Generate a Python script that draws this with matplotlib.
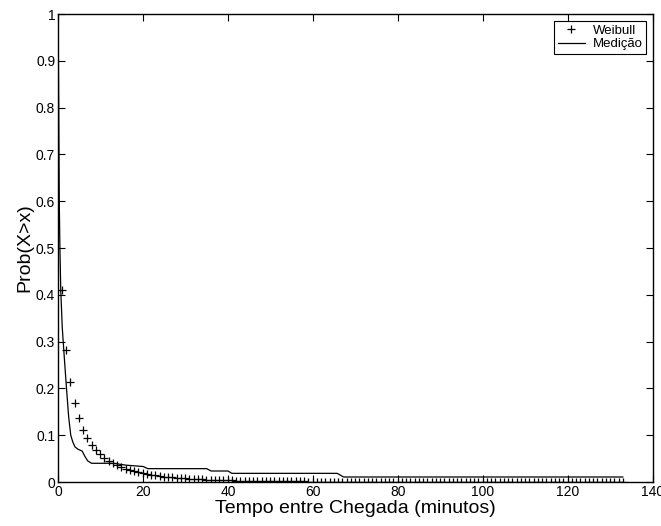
import numpy as np
import matplotlib
matplotlib.use('Agg')
import matplotlib.pyplot as plt

plt.rcParams['font.family'] = ['Liberation Sans', 'DejaVu Sans']

# Weibull fit, one point per minute (first point sits just under 1 min)
weibull_y = [0.410, 0.283, 0.213, 0.168, 0.136, 0.112, 0.094, 0.080, 0.069, 0.060,
             0.052, 0.0455, 0.040, 0.0355, 0.0316, 0.0282, 0.0253, 0.0227, 0.0205, 0.0185,
             0.0168, 0.0153, 0.0139, 0.0127, 0.0116, 0.0106, 0.0097, 0.0089, 0.0082, 0.0076,
             0.0070, 0.0064, 0.0060, 0.0055, 0.0051, 0.0047, 0.0044, 0.0041, 0.0038, 0.0036,
             0.0033, 0.0031, 0.0029, 0.0027, 0.0025, 0.0024, 0.0022, 0.0021, 0.0020, 0.0018,
             0.0017, 0.0016, 0.0015, 0.0014, 0.0013, 0.0012, 0.0012, 0.0011, 0.0010, 0.0010,
             0.0009, 0.0008, 0.0008, 0.0007, 0.0007, 0.0007, 0.0006, 0.0006, 0.0006, 0.0005,
             0.0005, 0.0005, 0.0004, 0.0004, 0.0004, 0.0004, 0.0004, 0.0003, 0.0003, 0.0003,
             0.0003, 0.0003, 0.0003, 0.0002, 0.0002, 0.0002, 0.0002, 0.0002, 0.0002, 0.0002,
             0.0002, 0.0002, 0.0001, 0.0001, 0.0001, 0.0001, 0.0001, 0.0001, 0.0001, 0.0001,
             0.0001, 0.0001, 0.0001, 0.0001, 0.0001, 0.0001, 0.0001, 0.0001, 0.0001, 0.0001,
             0.0001, 0.0001, 0.0, 0.0, 0.0, 0.0, 0.0, 0.0, 0.0, 0.0,
             0.0, 0.0, 0.0, 0.0, 0.0, 0.0, 0.0, 0.0, 0.0, 0.0,
             0.0, 0.0, 0.0]
weibull_x = np.arange(len(weibull_y)) + 0.9

# measured CCDF
med_x = [0.0, 0.1, 0.2, 0.3, 0.45, 0.65, 1.0, 1.35, 2.0, 2.5, 3.0, 3.5, 4.0, 4.7,
         5.7, 6.3, 7.0, 7.9, 13.0, 16.0, 20.1, 21.1, 35.0, 36.0, 40.0, 40.9, 65.7,
         67.2, 132.9]
med_y = [1.0, 0.9, 0.75, 0.6, 0.5, 0.41, 0.33, 0.283, 0.2, 0.14, 0.1, 0.085, 0.075, 0.07,
         0.066, 0.055, 0.045, 0.040, 0.040, 0.036, 0.033, 0.0285, 0.0285, 0.0235, 0.0235,
         0.0185, 0.0185, 0.0107, 0.0107]

fig = plt.figure(figsize=(6.61, 5.26), dpi=100)
ax = fig.add_axes([58/661, 44/526, 595/661, 468/526])

ax.plot(weibull_x, weibull_y, 'k+', markersize=6, markeredgewidth=0.9, label='Weibull')
ax.plot(med_x, med_y, 'k-', linewidth=0.9, label='Medição')

ax.set_xlim(0, 140)
ax.set_ylim(0, 1)
ax.set_xticks(np.arange(0, 141, 20))
ax.set_yticks(np.arange(0, 1.01, 0.1))
ax.set_yticklabels(['0', '0.1', '0.2', '0.3', '0.4', '0.5', '0.6', '0.7', '0.8', '0.9', '1'])
ax.tick_params(direction='in', top=True, right=True, length=5, width=0.8, labelsize=10, pad=2)
for s in ax.spines.values():
    s.set_linewidth(1.0)

ax.set_xlabel('Tempo entre Chegada (minutos)', fontsize=14, labelpad=1)
ax.set_ylabel('Prob(X>x)', fontsize=14, labelpad=2)

leg = ax.legend(loc='upper right', fontsize=9.5, frameon=True, fancybox=False,
                edgecolor='black', framealpha=1, borderpad=0.3, labelspacing=0.1,
                handlelength=2.0, handletextpad=0.6, borderaxespad=0.5)
leg.get_frame().set_linewidth(0.8)

fig.savefig('out.png', dpi=100)
